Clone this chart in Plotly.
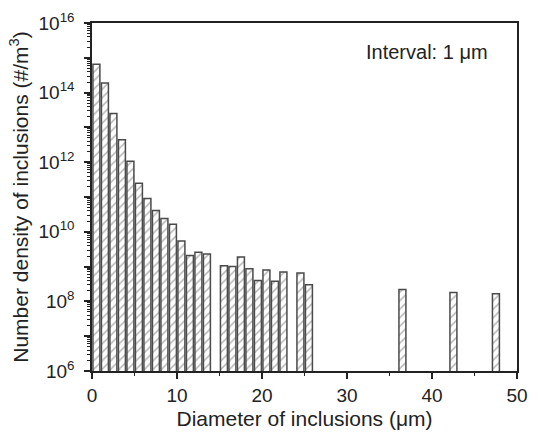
import plotly.graph_objects as go

diameters = [0, 1, 2, 3, 4, 5, 6, 7, 8, 9, 10, 11, 12, 13,
             15, 16, 17, 18, 19, 20, 21, 22, 24, 25, 36, 42, 47]
densities = [6.5e14, 1.9e14, 2.5e13, 4.4e12, 1.07e12, 2.5e11, 9e10, 4.1e10,
             2.4e10, 1.66e10, 5.4e9, 2.1e9, 2.6e9, 2.3e9,
             1.05e9, 1.0e9, 1.9e9, 8.7e8, 4.0e8, 8.0e8, 3.8e8, 7.0e8,
             6.6e8, 3.0e8, 2.2e8, 1.8e8, 1.65e8]
ytick_vals = [1e6, 1e7, 1e8, 1e9, 1e10, 1e11, 1e12, 1e13, 1e14, 1e15, 1e16]
ytick_text = ["10<sup>6</sup>", "", "10<sup>8</sup>", "", "10<sup>10</sup>", "",
              "10<sup>12</sup>", "", "10<sup>14</sup>", "", "10<sup>16</sup>"]

FONT = "Liberation Sans, Arial, sans-serif"

fig = go.Figure()
fig.add_trace(go.Bar(
    x=[d + 0.52 for d in diameters],
    y=densities,
    width=0.82,
    marker=dict(
        color="white",
        line=dict(color="#4a4a4a", width=1.5),
        pattern=dict(shape="/", fgcolor="#6a6a6a", bgcolor="white", size=6, solidity=0.25),
    ),
    showlegend=False,
))

fig.update_layout(
    width=538, height=437,
    margin=dict(l=92, r=10, t=20, b=63),
    plot_bgcolor="white", paper_bgcolor="white",
    font=dict(family=FONT, size=19, color="#222222"),
    xaxis=dict(
        range=[0, 50], tickvals=[0, 10, 20, 30, 40, 50],
        ticks="outside", ticklen=6, tickwidth=1.5, tickcolor="#222",
        showline=True, linecolor="#222", linewidth=1.5, mirror=True,
        showgrid=False, zeroline=False,
        minor=dict(tickvals=[5, 15, 25, 35, 45], ticks="outside", ticklen=3, tickcolor="#222", tickwidth=1.2),
        title=dict(text="Diameter of inclusions (μm)", font=dict(size=21), standoff=7),
        tickfont=dict(size=19),
    ),
    yaxis=dict(
        type="log", range=[6, 16],
        tickvals=ytick_vals, ticktext=ytick_text,
        ticks="outside", ticklen=6, tickwidth=1.5, tickcolor="#222",
        showline=True, linecolor="#222", linewidth=1.5, mirror=True,
        showgrid=False, zeroline=False, ticklabelstandoff=6,
        minor=dict(dtick="D1", ticks="outside", ticklen=3, tickcolor="#222", tickwidth=1),
        title=dict(text="Number density of inclusions (#/m<sup>3</sup>)", font=dict(size=21), standoff=4),
        tickfont=dict(size=19),
    ),
    annotations=[dict(
        text="Interval: 1 μm", showarrow=False, font=dict(size=20),
        xref="paper", yref="paper",
        x=(500 - 92) / (528 - 92), y=1 - (49 - 20) / (374 - 20),
        xanchor="right", yanchor="middle",
    )],
)

fig.write_html("out.html")
